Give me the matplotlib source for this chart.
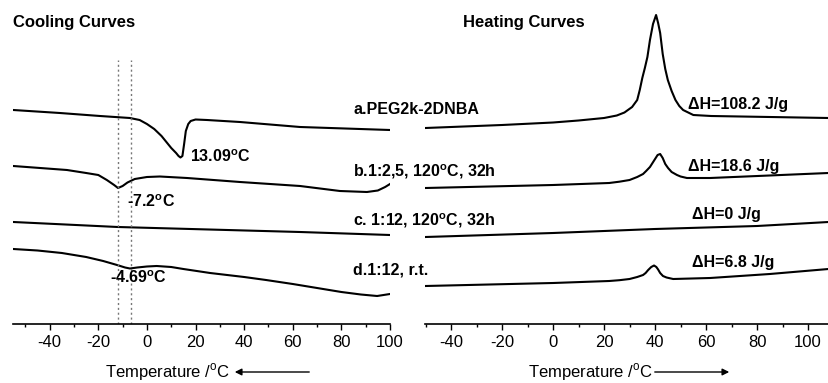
import matplotlib
matplotlib.use('Agg')
import matplotlib.pyplot as plt
from matplotlib.ticker import MultipleLocator

plt.rcParams['font.family'] = ['Liberation Sans', 'DejaVu Sans']
plt.rcParams['mathtext.fontset'] = 'custom'
plt.rcParams['mathtext.rm'] = 'Liberation Sans'
plt.rcParams['mathtext.bf'] = 'Liberation Sans:bold'
plt.rcParams['axes.unicode_minus'] = False

# cooling curves (temperature in C, heat flow in arbitrary units, offset per sample)
cool_a_t = [-55, -35.8, -19.3, -7, -3, 0, 3, 6, 8, 10, 12, 13, 13.8, 14.6, 15.3, 16, 17, 18, 20, 24.7, 38.3, 63, 100]
cool_a_y = [214, 211, 208, 206, 204, 200, 195, 188, 182, 176, 171, 168, 166.5, 168, 180, 193, 200, 203, 204.5, 204, 202, 197, 194]

cool_b_t = [-55, -32.9, -25, -20, -16.5, -13.5, -11.9, -10, -8, -5, 0, 5.3, 16.5, 38.3, 63, 79.4, 90.5, 95, 98, 100]
cool_b_y = [158, 154, 151, 149, 144, 139, 136, 138, 141.5, 145, 147, 147.5, 146, 142, 138, 133, 132, 133.5, 137, 140]

cool_c_t = [-55, -12, 63, 100]
cool_c_y = [102, 97, 92, 89]

cool_d_t = [-55, -45, -35, -25, -18, -12.3, -9, -7, -4, 0, 4, 10, 15, 26, 40, 49, 60, 70, 80, 88, 94.7, 100]
cool_d_y = [75, 73.5, 71, 67, 63, 59, 56.5, 55.5, 56.5, 57.5, 58, 57, 55, 51, 47, 44, 40, 36, 32, 29.5, 28, 30]

# heating curves
heat_a_t = [-50, -20, 0, 10, 20, 25, 28, 31, 33, 34, 35, 36, 37, 38, 39.2, 40.4, 41.2, 42, 43, 44, 45, 46.5, 48, 49.5, 51, 55, 62, 108]
heat_a_y = [196, 199, 201.5, 203.5, 206, 208.5, 211.5, 217, 224, 234, 246, 256, 267, 284, 300, 309, 301, 291, 270, 255, 244, 233, 224, 218, 214, 209, 208, 206]

heat_b_t = [-50, 0, 22, 26, 30, 33, 35.3, 36.5, 38, 39, 40, 41, 42, 43, 44, 45.1, 46.5, 48.6, 50, 52.5, 61.6, 108]
heat_b_y = [136, 139, 141, 142.3, 144, 147, 150, 153, 157, 161, 165, 169, 170, 166, 160, 156, 152, 149, 147.5, 146, 146, 151]

heat_c_t = [-50, 0, 40, 80, 108]
heat_c_y = [87, 91, 95, 98, 102]

heat_d_t = [-50, 0, 22, 26, 30, 33, 35.3, 36.3, 37.3, 38.5, 39.6, 40.5, 41.2, 42, 43.1, 44.5, 47.1, 61.6, 85, 108]
heat_d_y = [38, 41, 43, 43.8, 45, 47, 49, 51, 54, 57, 58.5, 57, 54.5, 51, 48, 46.5, 45, 46, 50, 55]

onset_t = [-11.9, -6.6]
sample_labels = ['a.PEG2k-2DNBA', 'b.1:2,5, 120$^\\mathbf{o}$C, 32h',
                 'c. 1:12, 120$^\\mathbf{o}$C, 32h', 'd.1:12, r.t.']
peak_labels = ['13.09$^\\mathbf{o}$C', '-7.2$^\\mathbf{o}$C', '-4.69$^\\mathbf{o}$C']
dh_labels = ['\u0394H=108.2 J/g', '\u0394H=18.6 J/g', '\u0394H=0 J/g', '\u0394H=6.8 J/g']

W, H = 829, 383
fig = plt.figure(figsize=(W / 100, H / 100), dpi=100)
ax1 = fig.add_axes([13 / W, 59 / H, 377 / W, 324 / H])
ax2 = fig.add_axes([425 / W, 59 / H, 404 / W, 324 / H])

for ax in (ax1, ax2):
    for s in ('left', 'right', 'top'):
        ax.spines[s].set_visible(False)
    ax.spines['bottom'].set_linewidth(1.2)
    ax.set_yticks([])
    ax.set_ylim(0, 324)
    ax.xaxis.set_major_locator(MultipleLocator(20))
    ax.xaxis.set_minor_locator(MultipleLocator(10))
    ax.tick_params(axis='x', which='major', direction='out', length=4, width=1, labelsize=12, pad=4)
    ax.tick_params(axis='x', which='minor', direction='out', length=2.5, width=1)
    ax.patch.set_visible(False)

ax1.set_xlim(-55.1, 100)
ax2.set_xlim(-50.2, 108.2)

for t, y in [(cool_a_t, cool_a_y), (cool_b_t, cool_b_y), (cool_c_t, cool_c_y), (cool_d_t, cool_d_y)]:
    ax1.plot(t, y, color='black', lw=1.5, solid_joinstyle='round')
for t, y in [(heat_a_t, heat_a_y), (heat_b_t, heat_b_y), (heat_c_t, heat_c_y), (heat_d_t, heat_d_y)]:
    ax2.plot(t, y, color='black', lw=1.5, solid_joinstyle='round')

for t in onset_t:
    ax1.plot([t, t], [0, 264], color='#777777', lw=1, ls=(0, (1.5, 2)))

bold = dict(fontsize=11.5, fontweight='bold', color='black')
ax1.text(17.7, 167, peak_labels[0], ha='left', va='center', **bold)
ax1.text(-8.2, 122, peak_labels[1], ha='left', va='center', **bold)
ax1.text(-15.2, 46, peak_labels[2], ha='left', va='center', **bold)

for lab, y in zip(sample_labels, [214, 152, 103, 54]):
    ax1.text(84.8, y, lab, ha='left', va='center', clip_on=False, **bold)

for lab, (t, y) in zip(dh_labels, [(52.9, 219), (52.9, 157), (54.5, 109), (54.5, 61)]):
    ax2.text(t, y, lab, ha='left', va='center', **bold)

fig.text(13 / W, 1 - 23 / H, 'Cooling Curves', ha='left', va='center', fontsize=12, fontweight='bold')
fig.text(463 / W, 1 - 23 / H, 'Heating Curves', ha='left', va='center', fontsize=12, fontweight='bold')

fig.text(167 / W, 1 - 372 / H, 'Temperature /$^\\mathrm{o}$C', ha='center', va='center', fontsize=12)
fig.text(590 / W, 1 - 372 / H, 'Temperature /$^\\mathrm{o}$C', ha='center', va='center', fontsize=12)
arrow = dict(arrowstyle='-|>', lw=1, color='black', mutation_scale=10)
fig.add_artist(matplotlib.patches.FancyArrowPatch((312, 11), (232, 11), transform=None, **arrow))
fig.add_artist(matplotlib.patches.FancyArrowPatch((652, 11), (732, 11), transform=None, **arrow))

fig.savefig('out.png', dpi=100)
